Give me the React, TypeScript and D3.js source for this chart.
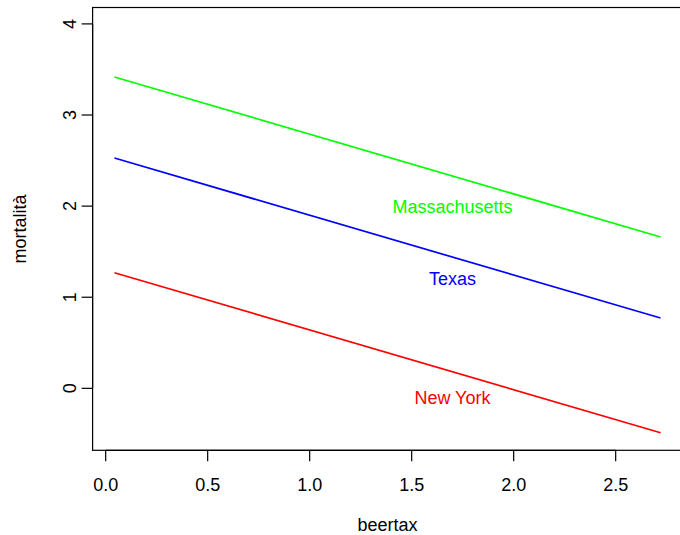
import React from 'react';
import * as d3 from 'd3';

// beertax range used for the fitted lines
const beertaxRange = [0.043, 2.72];
const slope = -0.656;

const states = ['Massachusetts', 'Texas', 'New York'];
const intercepts = [3.446, 2.556, 1.297];
const colors = ['#00ff00', '#0000ff', '#ff0000'];
// label positions (beertax, mortalità)
const labelX = [1.7, 1.7, 1.7];
const labelY = [2.0, 1.2, -0.1];

const xTicks = [0, 0.5, 1, 1.5, 2, 2.5];
const yTicks = [0, 1, 2, 3, 4];

const width = 680;
const height = 535;

const App = () => {
    // R style 4% padding around the data range
    const xPad = (beertaxRange[1] - beertaxRange[0]) * 0.04;
    const yMin = -0.5;
    const yMax = 4;
    const yPad = (yMax - yMin) * 0.04;

    const plot = { left: 92.6, right: 682.4, top: 7.5, bottom: 450.3 };

    const x = d3
        .scaleLinear()
        .domain([beertaxRange[0] - xPad, beertaxRange[1] + xPad])
        .range([plot.left, plot.right]);

    const y = d3
        .scaleLinear()
        .domain([yMin - yPad, yMax + yPad])
        .range([plot.bottom, plot.top]);

    const font = 'Liberation Sans, Arial, Helvetica, sans-serif';
    const fs = 18;
    const capHalf = fs * 0.716 / 2; // R centres text on cap height
    const tickLen = 11;

    return (
        <svg
            width={width}
            height={height}
            style={{ position: 'absolute', left: 0, top: 0, background: '#fff' }}
            fontFamily={font}
        >
            {/* fitted lines */}
            {states.map((s, i) => {
                const path = d3
                    .line<number>()
                    .x((d) => x(d))
                    .y((d) => y(intercepts[i] + slope * d))(beertaxRange);
                return (
                    <path key={s} d={path || ''} fill="none" stroke={colors[i]} strokeWidth={1.7} />
                );
            })}

            {/* state labels */}
            {states.map((s, i) => (
                <text
                    key={'l' + s}
                    x={x(labelX[i])}
                    y={y(labelY[i]) + capHalf}
                    fill={colors[i]}
                    fontSize={fs}
                    textAnchor="middle"
                >
                    {s}
                </text>
            ))}

            {/* box */}
            <rect
                x={plot.left}
                y={plot.top}
                width={plot.right - plot.left}
                height={plot.bottom - plot.top}
                fill="none"
                stroke="#000"
                strokeWidth={1.2}
            />

            {/* x axis */}
            <line x1={x(0)} x2={x(2.5)} y1={plot.bottom} y2={plot.bottom} stroke="#000" strokeWidth={1.2} />
            {xTicks.map((t) => (
                <g key={'x' + t}>
                    <line x1={x(t)} x2={x(t)} y1={plot.bottom} y2={plot.bottom + tickLen} stroke="#000" strokeWidth={1.2} />
                    <text x={x(t)} y={491} fontSize={fs} textAnchor="middle">
                        {d3.format('.1f')(t)}
                    </text>
                </g>
            ))}

            {/* y axis */}
            <line x1={plot.left} x2={plot.left} y1={y(0)} y2={y(4)} stroke="#000" strokeWidth={1.2} />
            {yTicks.map((t) => (
                <g key={'y' + t}>
                    <line x1={plot.left - tickLen} x2={plot.left} y1={y(t)} y2={y(t)} stroke="#000" strokeWidth={1.2} />
                    <text transform={`translate(76, ${y(t)}) rotate(-90)`} fontSize={fs} textAnchor="middle">
                        {t}
                    </text>
                </g>
            ))}

            {/* axis titles */}
            <text x={(plot.left + plot.right) / 2} y={531} fontSize={fs} textAnchor="middle">
                beertax
            </text>
            <text
                transform={`translate(25.5, ${(plot.top + plot.bottom) / 2}) rotate(-90)`}
                fontSize={fs}
                textAnchor="middle"
            >
                mortalità
            </text>
        </svg>
    );
};

export default App;
